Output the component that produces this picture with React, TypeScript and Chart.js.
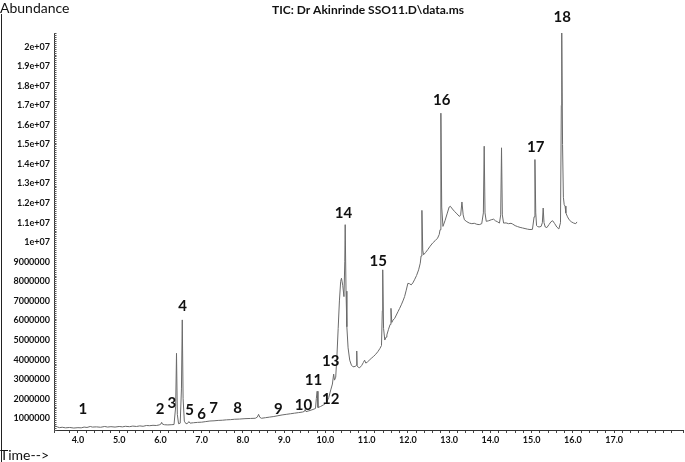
import React, { useEffect, useRef } from "react";
import { Chart, registerables } from "chart.js";

Chart.register(...registerables);

// Retention time (min)
const retentionTime = [
  3.45, 3.50, 3.55, 3.62, 3.70, 3.80, 3.90, 4.00, 4.08, 4.15,
  4.22, 4.30, 4.35, 4.45, 4.55, 4.65, 4.72, 4.80, 4.90, 5.00,
  5.08, 5.15, 5.25, 5.33, 5.42, 5.50, 5.58, 5.66, 5.74, 5.82,
  5.90, 5.97, 6.01, 6.03, 6.05, 6.10, 6.18, 6.26, 6.33, 6.37,
  6.39, 6.41, 6.44, 6.48, 6.51, 6.53, 6.55, 6.58, 6.62, 6.66,
  6.69, 6.72, 6.80, 6.90, 7.00, 7.10, 7.20, 7.30, 7.40, 7.50,
  7.60, 7.70, 7.80, 7.92, 8.05, 8.18, 8.30, 8.35, 8.38, 8.41,
  8.45, 8.55, 8.65, 8.75, 8.85, 8.95, 9.05, 9.15, 9.25, 9.35,
  9.45, 9.49, 9.51, 9.53, 9.60, 9.70, 9.76, 9.78, 9.80, 9.82,
  9.88, 9.95, 10.02, 10.08, 10.13, 10.17, 10.20, 10.22, 10.25, 10.28,
  10.31, 10.34, 10.37, 10.39, 10.42, 10.45, 10.47, 10.48, 10.50, 10.52,
  10.55, 10.59, 10.63, 10.67, 10.72, 10.75, 10.76, 10.77, 10.80, 10.83,
  10.88, 10.92, 10.95, 10.98, 11.02, 11.06, 11.11, 11.16, 11.21, 11.27,
  11.32, 11.36, 11.38, 11.39, 11.41, 11.44, 11.47, 11.49, 11.53, 11.57,
  11.59, 11.61, 11.64, 11.68, 11.72, 11.76, 11.80, 11.84, 11.88, 11.92,
  11.96, 12.00, 12.04, 12.08, 12.12, 12.16, 12.21, 12.26, 12.30, 12.32,
  12.34, 12.36, 12.38, 12.43, 12.48, 12.54, 12.60, 12.66, 12.72, 12.76,
  12.78, 12.80, 12.82, 12.85, 12.90, 12.95, 13.00, 13.03, 13.08, 13.13,
  13.19, 13.25, 13.28, 13.31, 13.34, 13.37, 13.43, 13.49, 13.55, 13.61,
  13.67, 13.73, 13.79, 13.83, 13.85, 13.87, 13.90, 13.96, 14.02, 14.08,
  14.12, 14.17, 14.22, 14.25, 14.27, 14.29, 14.32, 14.38, 14.44, 14.50,
  14.54, 14.60, 14.66, 14.72, 14.78, 14.84, 14.90, 14.96, 15.02, 15.06,
  15.08, 15.10, 15.12, 15.14, 15.18, 15.23, 15.26, 15.28, 15.30, 15.33,
  15.37, 15.42, 15.47, 15.51, 15.56, 15.61, 15.66, 15.70, 15.72, 15.73,
  15.75, 15.77, 15.79, 15.81, 15.83, 15.87, 15.91, 15.96, 16.02, 16.07,
  16.10,
];

// Abundance (millions of counts)
const abundanceMillions = [
  0.61, 0.56, 0.52, 0.54, 0.51, 0.53, 0.50, 0.52, 0.51, 0.55,
  0.53, 0.58, 0.55, 0.56, 0.54, 0.58, 0.55, 0.57, 0.55, 0.58,
  0.56, 0.59, 0.57, 0.60, 0.58, 0.61, 0.59, 0.63, 0.62, 0.64,
  0.63, 0.66, 0.70, 0.79, 0.70, 0.67, 0.66, 0.67, 0.68, 1.6,
  4.32, 1.2, 0.72, 0.75, 2.5, 6.03, 2.0, 0.85, 0.72, 0.74,
  0.83, 0.75, 0.77, 0.79, 0.80, 0.83, 0.86, 0.87, 0.89, 0.90,
  0.92, 0.93, 0.95, 0.96, 0.98, 0.99, 1.00, 1.06, 1.20, 1.05,
  1.00, 1.03, 1.06, 1.09, 1.13, 1.17, 1.20, 1.23, 1.26, 1.29,
  1.32, 1.35, 1.45, 1.34, 1.38, 1.45, 1.50, 2.00, 2.38, 1.55,
  1.60, 1.68, 1.78, 2.05, 2.45, 2.75, 3.26, 2.95, 3.10, 4.20,
  5.6, 7.0, 8.0, 8.16, 7.8, 7.22, 9.0, 10.9, 7.5, 5.68,
  4.6, 3.97, 3.72, 3.63, 3.65, 3.70, 4.44, 3.68, 3.60, 3.58,
  3.70, 3.85, 3.97, 3.82, 3.88, 3.96, 4.06, 4.15, 4.25, 4.40,
  4.56, 4.72, 6.5, 8.59, 5.6, 5.0, 5.15, 5.26, 5.55, 5.80,
  6.62, 5.90, 6.02, 6.11, 6.28, 6.45, 6.62, 6.80, 7.00, 7.22,
  7.55, 7.90, 7.88, 7.82, 7.92, 8.08, 8.30, 8.59, 8.93, 9.3,
  11.63, 9.6, 9.36, 9.48, 9.62, 9.80, 9.96, 10.08, 10.21, 10.40,
  10.64, 16.6, 11.8, 10.81, 11.10, 11.45, 11.80, 11.84, 11.70, 11.58,
  11.45, 11.32, 11.40, 12.06, 11.40, 11.15, 11.05, 10.98, 10.95, 10.97,
  10.92, 10.90, 10.95, 11.5, 14.91, 11.5, 11.07, 11.10, 11.15, 11.18,
  11.10, 11.05, 10.98, 11.4, 14.83, 11.4, 10.98, 10.99, 10.95, 10.97,
  10.93, 10.85, 10.80, 10.76, 10.73, 10.70, 10.67, 10.65, 10.66, 11.3,
  14.23, 11.5, 10.85, 10.81, 10.78, 10.81, 11.0, 11.75, 11.0, 10.78,
  10.75, 10.90, 11.05, 11.10, 10.95, 10.78, 10.68, 11.0, 17.0, 20.9,
  15.0, 12.3, 11.92, 11.85, 11.50, 11.30, 11.15, 11.05, 10.98, 10.95,
  11.04,
];

// Peak number annotations (label text, retention time, abundance in millions)
const peakLabels = ["1", "2", "3", "4", "5", "6", "7", "8", "9", "10", "11", "12", "13", "14", "15", "16", "17", "18"];
const peakLabelTime = [4.12, 5.99, 6.28, 6.54, 6.71, 7.0, 7.29, 7.87, 8.86, 9.47, 9.71, 10.13, 10.13, 10.44, 11.28, 12.82, 15.1, 15.74];
const peakLabelAbundance = [1.47, 1.47, 1.78, 6.72, 1.41, 1.21, 1.51, 1.51, 1.46, 1.67, 2.97, 2.0, 3.92, 11.51, 9.05, 17.26, 14.85, 21.5];

const chartTitle = "TIC: Dr Akinrinde SSO11.D\\data.ms";
const yAxisTitle = "Abundance";
const xAxisTitle = "Time-->";

const FONT = "Lato, 'Open Sans', sans-serif";

function formatAbundance(v: number): string {
  const n = Math.round(v);
  if (n >= 10) return n / 10 + "e+07";
  return String(n * 1000000);
}

const decorPlugin = {
  id: "decor",
  afterDraw(chart: any) {
    const { ctx, scales } = chart;
    const x = scales.x;
    const y = scales.y;
    ctx.save();
    // inward minor ticks on y axis
    ctx.strokeStyle = "#555";
    ctx.lineWidth = 1;
    ctx.beginPath();
    for (const t of y.ticks) {
      const py = Math.round(y.getPixelForValue(t.value)) + 0.5;
      ctx.moveTo(x.left, py);
      ctx.lineTo(x.left + 2.5, py);
    }
    ctx.stroke();

    // left frame line
    ctx.strokeStyle = "#222";
    ctx.beginPath();
    ctx.moveTo(1.5, 14);
    ctx.lineTo(1.5, chart.height);
    ctx.stroke();

    // peak labels
    ctx.fillStyle = "#111";
    ctx.font = `bold 15px ${FONT}`;
    ctx.textAlign = "center";
    ctx.textBaseline = "middle";
    peakLabels.forEach((lab, i) => {
      ctx.fillText(lab, x.getPixelForValue(peakLabelTime[i]), y.getPixelForValue(peakLabelAbundance[i]));
    });

    // title
    ctx.font = `bold 12px ${FONT}`;
    ctx.fillText(chartTitle, 368, 10);

    // axis titles
    ctx.textAlign = "left";
    ctx.font = `14px ${FONT}`;
    ctx.fillText(yAxisTitle, 0, 8);
    ctx.fillText(xAxisTitle, 0, 455);
    ctx.restore();
  },
};

export default function App() {
  const ref = useRef<HTMLCanvasElement | null>(null);
  useEffect(() => {
    document.body.style.margin = "0";
    const canvas = ref.current;
    if (!canvas) return;
    const points = retentionTime.map((t, i) => ({ x: t, y: abundanceMillions[i] }));
    const chart = new Chart(canvas, {
      type: "line",
      data: {
        datasets: [
          {
            data: points,
            borderColor: "#6a6a6a",
            borderWidth: 1,
            pointRadius: 0,
            tension: 0,
            fill: false,
          },
        ],
      },
      options: {
        responsive: false,
        animation: false,
        devicePixelRatio: 1,
        layout: { padding: { top: 33, left: 0, right: 1, bottom: 0 } },
        plugins: { legend: { display: false }, tooltip: { enabled: false }, title: { display: false } },
        scales: {
          x: {
            type: "linear",
            min: 3.42,
            max: 18.67,
            afterFit: (s: any) => {
              s.height = 32;
            },
            grid: { display: true, drawOnChartArea: false, drawTicks: true, tickLength: 3, tickColor: "#444" },
            border: { display: true, color: "#333", width: 1 },
            ticks: {
              stepSize: 0.2,
              autoSkip: false,
              maxRotation: 0,
              padding: 2,
              color: "#111",
              font: { family: FONT, size: 9, weight: "bold" },
              callback: (v: any) => {
                const n = Number(v);
                if (Math.abs(n - Math.round(n)) < 1e-6 && n >= 4 && n <= 17) return n.toFixed(1);
                return "";
              },
            },
          },
          y: {
            type: "linear",
            min: 0.4,
            max: 20.7,
            afterFit: (s: any) => {
              s.width = 54;
            },
            grid: { display: true, drawOnChartArea: false, drawTicks: false },
            border: { display: true, color: "#333", width: 1 },
            ticks: {
              stepSize: 0.1,
              autoSkip: false,
              maxTicksLimit: 1000,
              padding: 4,
              color: "#111",
              font: { family: FONT, size: 9, weight: "bold" },
              callback: (v: any) => {
                const n = Number(v);
                if (Math.abs(n * 10 - Math.round(n) * 10) < 1e-4 && Math.round(n) >= 1) return formatAbundance(n);
                return "";
              },
            },
          },
        },
      },
      plugins: [decorPlugin],
    } as any);
    return () => chart.destroy();
  }, []);
  return <canvas ref={ref} width={685} height={462} style={{ display: "block" }} />;
}
